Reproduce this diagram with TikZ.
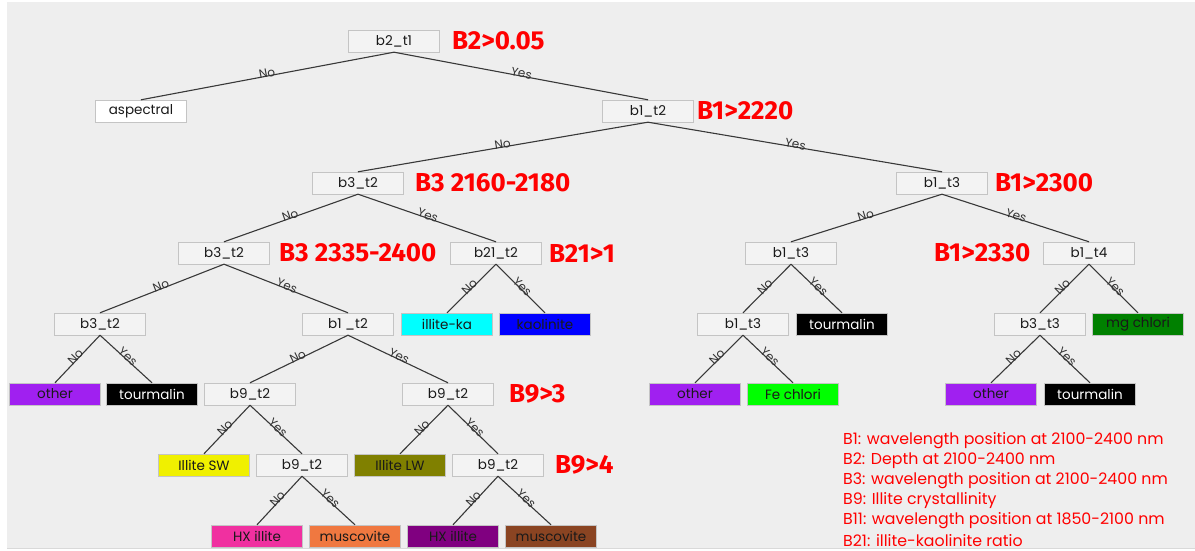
\documentclass[tikz,border=0pt]{standalone}
\usepackage{fontspec}
\setmainfont{Poppins}
\newfontfamily\redfont{Fira Sans}
\definecolor{bg}{HTML}{EEEEEE}
\definecolor{boxfill}{HTML}{F3F3F3}
\definecolor{boxborder}{HTML}{C4C4C4}
\definecolor{cpurple}{HTML}{A020F0}
\definecolor{ccyan}{HTML}{00FFFF}
\definecolor{cblue}{HTML}{0000FF}
\definecolor{cfegreen}{HTML}{00FF00}
\definecolor{cmggreen}{HTML}{008000}
\definecolor{cyellow}{HTML}{F0F000}
\definecolor{colive}{HTML}{808000}
\definecolor{cpink}{HTML}{F030A0}
\definecolor{corange}{HTML}{F07840}
\definecolor{cdpurple}{HTML}{800080}
\definecolor{cbrown}{HTML}{8A4422}
\definecolor{cred}{HTML}{FF0000}
\begin{document}
\begin{tikzpicture}[x=1pt,y=1pt,
  box/.style={draw=boxborder, fill=boxfill, minimum width=91pt, minimum height=22pt, inner sep=0pt,
    font=\fontsize{13.5}{13.5}\selectfont, text=black!90},
  leaf/.style={box, fill=#1},
  cond/.style={font=\redfont\bfseries\fontsize{26}{26}\selectfont, text=cred, anchor=west, inner sep=0pt},
  edge/.style={draw=black!78, line width=1.1pt},
  lbl/.style={midway, sloped, above=-2.5pt, inner sep=0.5pt, font=\fontsize{12}{12}\selectfont, text=black!80},
  legend/.style={font=\fontsize{15.8}{15.8}\selectfont, text=cred, anchor=west, inner sep=0pt}]
\useasboundingbox (0,0) rectangle (1195,550);
\fill[white] (0,0) rectangle (1195,550);
\fill[bg] (7,2) rectangle (1195,548);
\draw[black!15, line width=1pt] (7,1.5) -- (1195,1.5);

% level 0
\node[box] (r) at (394,509) {b2\_t1};
\node[cond] (cr) at (452,509) {B2>0.05};
% level 1
\node[leaf=white] (asp) at (141,439) {aspectral};
\node[box] (n1) at (648,439) {b1\_t2};
\node[cond] (c1) at (697,439) {B1>2220};
% level 2
\node[box] (n2) at (358,367) {b3\_t2};
\node[cond] (c2) at (415,367) {B3 2160-2180};
\node[box] (n3) at (942,367) {b1\_t3};
\node[cond] (c3) at (995,367) {B1>2300};
% level 3
\node[box] (n4) at (224,297) {b3\_t2};
\node[cond] (c4) at (279,297) {B3 2335-2400};
\node[box] (n5) at (496,297) {b21\_t2};
\node[cond] (c5) at (549,297) {B21>1};
\node[box] (n6) at (791,297) {b1\_t3};
\node[cond] (c7) at (934,297) {B1>2330};
\node[box] (n7) at (1089,297) {b1\_t4};
% level 4
\node[box] (n8) at (100,226) {b3\_t2};
\node[box] (n9) at (348,226) {b1 \_t2};
\node[leaf=ccyan] (ika) at (447,226) {illite-ka};
\node[leaf=cblue] (kao) at (545,226) {kaolinite};
\node[box] (n10) at (743,226) {b1\_t3};
\node[leaf=black, text=white] (tou3) at (842,226) {tourmalin};
\node[box] (n11) at (1040,226) {b3\_t3};
\node[leaf=cmggreen] (mgc) at (1138,226) {mg chlori};
% level 5
\node[leaf=cpurple] (oth1) at (55,156) {other};
\node[leaf=black, text=white] (tou1) at (152,156) {tourmalin};
\node[box] (n12) at (250,156) {b9\_t2};
\node[box] (n13) at (448,156) {b9\_t2};
\node[cond] (c13) at (509,156) {B9>3};
\node[leaf=cpurple] (oth2) at (695,156) {other};
\node[leaf=cfegreen] (fec) at (793,156) {Fe chlori};
\node[leaf=cpurple] (oth3) at (991,156) {other};
\node[leaf=black, text=white] (tou4) at (1090,156) {tourmalin};
% level 6
\node[leaf=cyellow] (isw) at (204,85) {Illite SW};
\node[box] (n14) at (302,85) {b9\_t2};
\node[leaf=colive] (ilw) at (400,85) {Illite LW};
\node[box] (n15) at (498,85) {b9\_t2};
\node[cond] (c15) at (555,85) {B9>4};
% level 7
\node[leaf=cpink] (hx1) at (257,14) {HX illite};
\node[leaf=corange] (mu1) at (355,14) {muscovite};
\node[leaf=cdpurple] (hx2) at (453,14) {HX illite};
\node[leaf=cbrown] (mu2) at (551,14) {muscovite};

% edges
\draw[edge] (r.south) -- node[lbl]{No} (asp.north);
\draw[edge] (r.south) -- node[lbl]{Yes} (n1.north);
\draw[edge] (n1.south) -- node[lbl]{No} (n2.north);
\draw[edge] (n1.south) -- node[lbl]{Yes} (n3.north);
\draw[edge] (n2.south) -- node[lbl]{No} (n4.north);
\draw[edge] (n2.south) -- node[lbl]{Yes} (n5.north);
\draw[edge] (n3.south) -- node[lbl]{No} (n6.north);
\draw[edge] (n3.south) -- node[lbl]{Yes} (n7.north);
\draw[edge] (n4.south) -- node[lbl]{No} (n8.north);
\draw[edge] (n4.south) -- node[lbl]{Yes} (n9.north);
\draw[edge] (n5.south) -- node[lbl]{No} (ika.north);
\draw[edge] (n5.south) -- node[lbl]{Yes} (kao.north);
\draw[edge] (n6.south) -- node[lbl]{No} (n10.north);
\draw[edge] (n6.south) -- node[lbl]{Yes} (tou3.north);
\draw[edge] (n7.south) -- node[lbl]{No} (n11.north);
\draw[edge] (n7.south) -- node[lbl]{Yes} (mgc.north);
\draw[edge] (n8.south) -- node[lbl]{No} (oth1.north);
\draw[edge] (n8.south) -- node[lbl]{Yes} (tou1.north);
\draw[edge] (n9.south) -- node[lbl]{No} (n12.north);
\draw[edge] (n9.south) -- node[lbl]{Yes} (n13.north);
\draw[edge] (n10.south) -- node[lbl]{No} (oth2.north);
\draw[edge] (n10.south) -- node[lbl]{Yes} (fec.north);
\draw[edge] (n11.south) -- node[lbl]{No} (oth3.north);
\draw[edge] (n11.south) -- node[lbl]{Yes} (tou4.north);
\draw[edge] (n12.south) -- node[lbl]{No} (isw.north);
\draw[edge] (n12.south) -- node[lbl]{Yes} (n14.north);
\draw[edge] (n13.south) -- node[lbl]{No} (ilw.north);
\draw[edge] (n13.south) -- node[lbl]{Yes} (n15.north);
\draw[edge] (n14.south) -- node[lbl]{No} (hx1.north);
\draw[edge] (n14.south) -- node[lbl]{Yes} (mu1.north);
\draw[edge] (n15.south) -- node[lbl]{No} (hx2.north);
\draw[edge] (n15.south) -- node[lbl]{Yes} (mu2.north);

% legend
\node[legend] (lg1) at (843,109.5) {B1: wavelength position at 2100-2400 nm};
\node[legend] (lg2) at (843,89.5) {B2: Depth at 2100-2400 nm};
\node[legend] (lg3) at (843,69.5) {B3: wavelength position at 2100-2400 nm};
\node[legend] (lg4) at (843,49.5) {B9: Illite crystallinity};
\node[legend] (lg5) at (843,29.5) {B11: wavelength position at 1850-2100 nm};
\node[legend] (lg6) at (843,9.5) {B21: illite-kaolinite ratio};
\end{tikzpicture}
\end{document}
